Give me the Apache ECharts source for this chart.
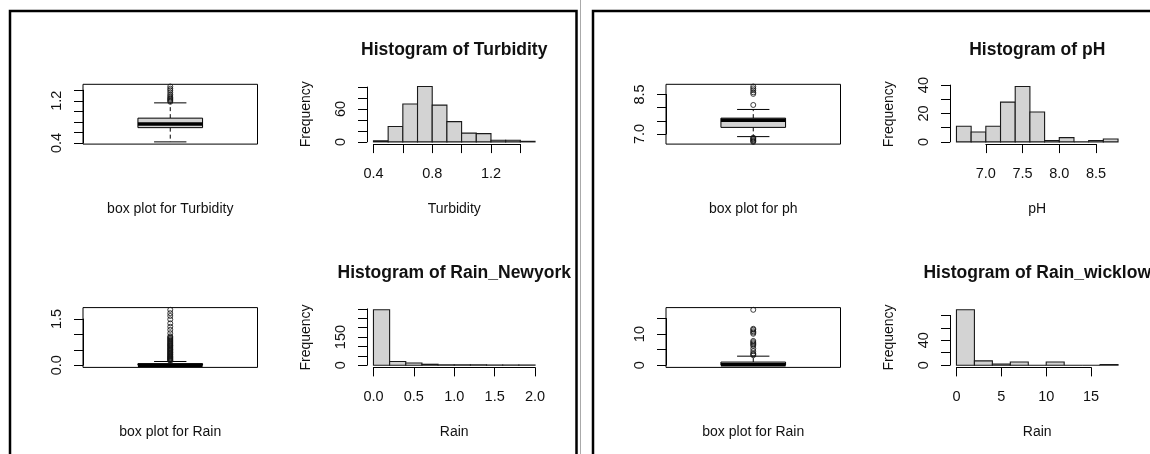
<!DOCTYPE html>
<html><head><meta charset="utf-8">
<script src="https://cdn.jsdelivr.net/npm/echarts@6/dist/echarts.min.js"></script>
<style>html,body{margin:0;padding:0;background:#fff}#c{width:1150px;height:454px}</style>
</head><body><div id="c"></div>
<script>
// ---------------- data ----------------
// Turbidity
const turbBox = [0.42, 0.69, 0.76, 0.87, 1.16];           // lower whisker, Q1, median, Q3, upper whisker
const turbOutliers = [1.18, 1.2, 1.22, 1.24, 1.26, 1.29, 1.32, 1.36, 1.4, 1.43, 1.47];
const turbBoxYTicks = [0.4, 0.6, 0.8, 1.0, 1.2, 1.4];
const turbBoxYLabels = ['0.4', '1.2'];
const turbBreaks = [0.4, 0.5, 0.6, 0.7, 0.8, 0.9, 1.0, 1.1, 1.2, 1.3, 1.4, 1.5];
const turbCounts = [2, 28, 69, 101, 67, 37, 16, 15, 3, 3, 1];
const turbHistXTicks = [0.4, 0.6, 0.8, 1.0, 1.2, 1.4];
const turbHistXLabels = ['0.4', '0.8', '1.2'];
const turbHistYTicks = [0, 20, 40, 60, 80, 100];
const turbHistYLabels = ['0', '60'];

// Rain New York
const nyBox = [0, 0, 0, 0.05, 0.12];
const nyOutliers = [0.14, 0.16, 0.18, 0.2, 0.22, 0.24, 0.26, 0.28, 0.3, 0.33, 0.35, 0.37, 0.4, 0.42, 0.45,
  0.47, 0.5, 0.52, 0.55, 0.57, 0.6, 0.63, 0.65, 0.68, 0.7, 0.73, 0.76, 0.79, 0.82, 0.85, 0.88, 0.91, 0.94,
  1.04, 1.15, 1.25, 1.36, 1.49, 1.6, 1.69, 1.8];
const nyBoxYTicks = [0, 0.5, 1.0, 1.5];
const nyBoxYLabels = ['0.0', '1.5'];
const nyBreaks = [0, 0.2, 0.4, 0.6, 0.8, 1.0, 1.2, 1.4, 1.6, 1.8, 2.0];
const nyCounts = [295, 20, 12, 5, 2, 2, 2, 1, 1, 1];
const nyHistXTicks = [0, 0.5, 1.0, 1.5, 2.0];
const nyHistXLabels = ['0.0', '0.5', '1.0', '1.5', '2.0'];
const nyHistYTicks = [0, 50, 100, 150, 200, 250, 300];
const nyHistYLabels = ['0', '150'];

// pH
const phBox = [6.9, 7.25, 7.52, 7.6, 7.93];
const phOutliers = [6.7, 6.73, 6.76, 6.8, 6.83, 6.86, 8.1, 8.52, 8.58, 8.66, 8.73, 8.8];
const phBoxYTicks = [7.0, 7.5, 8.0, 8.5];
const phBoxYLabels = ['7.0', '8.5'];
const phBreaks = [6.6, 6.8, 7.0, 7.2, 7.4, 7.6, 7.8, 8.0, 8.2, 8.4, 8.6, 8.8];
const phCounts = [11, 7, 11, 28, 39, 21, 1, 3, 0, 1, 2];
const phHistXTicks = [7.0, 7.5, 8.0, 8.5];
const phHistXLabels = ['7.0', '7.5', '8.0', '8.5'];
const phHistYTicks = [0, 10, 20, 30, 40];
const phHistYLabels = ['0', '20', '40'];

// Rain Wicklow
const wkBox = [0, 0, 0.1, 1.0, 2.9];
const wkOutliers = [3.2, 3.5, 3.8, 4.5, 5.3, 6.2, 6.6, 7.0, 7.4, 7.8, 10.1, 10.5, 10.9, 11.4, 11.7, 17.8];
const wkBoxYTicks = [0, 5, 10, 15];
const wkBoxYLabels = ['0', '10'];
const wkBreaks = [0, 2, 4, 6, 8, 10, 12, 14, 16, 18];
const wkCounts = [89, 7, 2, 5, 0, 5, 0, 0, 1];
const wkHistXTicks = [0, 5, 10, 15];
const wkHistXLabels = ['0', '5', '10', '15'];
const wkHistYTicks = [0, 20, 40, 60, 80];
const wkHistYLabels = ['0', '40'];

// ---------------- layout ----------------
const FONT = '"Liberation Sans", Arial, sans-serif';
const TXT = '#111';
const COLS = [83, 367, 666, 950];
const ROWS = [84.3, 307.6];
const PW = 174.5, PH = 59.8;

const grids = [], xAxes = [], yAxes = [], series = [], graphics = [];
const last = a => a[a.length - 1];
function ext(a, b) { const d = (b - a) * 0.04; return [a - d, b + d]; }

function addGrid(r, xa, ya, extra) {
  const i = grids.length;
  grids.push(Object.assign({left: r.l, top: r.t, width: r.w, height: r.h, containLabel: false,
    outerBoundsMode: 'none', show: false}, extra || {}));
  xAxes.push(Object.assign({gridIndex: i}, xa));
  yAxes.push(Object.assign({gridIndex: i}, ya));
  return i;
}
function hidden() { return {type: 'value', min: 0, max: 1, show: false, splitLine: {show: false}}; }
function plainAxis(min, max, name, gap) {
  const a = {type: 'value', min, max, show: true, axisLine: {show: false, onZero: false},
    axisTick: {show: false}, axisLabel: {show: false}, splitLine: {show: false}};
  if (name) {
    a.name = name; a.nameLocation = 'middle'; a.nameGap = gap;
    a.nameTextStyle = {fontSize: 14, color: TXT, fontFamily: FONT};
  }
  return a;
}
function tickAxis(ticks, labels, dec, isY) {
  return {type: 'value', min: ticks[0], max: last(ticks), interval: +(ticks[1] - ticks[0]).toFixed(6), show: true,
    axisLine: {show: true, onZero: false, lineStyle: {color: '#000', width: 1}},
    axisTick: {show: true, inside: false, length: 9, lineStyle: {color: '#000', width: 1}},
    splitLine: {show: false},
    axisLabel: {show: true, rotate: isY ? 90 : 0, margin: isY ? 19 : 22, fontSize: 14.5, color: TXT,
      fontFamily: FONT, hideOverlap: false, showMinLabel: true, showMaxLabel: true,
      formatter: v => { const s = (+v).toFixed(dec); return labels.indexOf(s) >= 0 ? s : ''; }}};
}
function xSub(r, d0, d1, t0, t1) {
  return {l: r.l + (t0 - d0) / (d1 - d0) * r.w, t: r.t, w: (t1 - t0) / (d1 - d0) * r.w, h: r.h};
}
function ySub(r, d0, d1, t0, t1) {
  return {l: r.l, w: r.w, t: r.t + (d1 - t1) / (d1 - d0) * r.h, h: (t1 - t0) / (d1 - d0) * r.h};
}

function histItem(params, api) {
  const a = api.coord([api.value(0), 0]);
  const b = api.coord([api.value(1), api.value(2)]);
  return {type: 'polygon', shape: {points: [[a[0], a[1]], [b[0], a[1]], [b[0], b[1]], [a[0], b[1]]]},
    style: {fill: '#d3d3d3', stroke: '#1a1a1a', lineWidth: 1.1}};
}
function boxItem(params, api) {
  const c = api.value(0), lo = api.value(1), q1 = api.value(2), med = api.value(3), q3 = api.value(4), hi = api.value(5);
  const P = (x, y) => api.coord([x, y]);
  const line = (a, b, extra) => ({type: 'line', shape: {x1: a[0], y1: a[1], x2: b[0], y2: b[1]},
    style: Object.assign({stroke: '#000', lineWidth: 1}, extra || {})});
  const bl = P(c - 0.2, q1), tr = P(c + 0.2, q3);
  return {type: 'group', children: [
    line(P(c, q3), P(c, hi), {lineDash: [4, 3]}),
    line(P(c, q1), P(c, lo), {lineDash: [4, 3]}),
    line(P(c - 0.1, hi), P(c + 0.1, hi)),
    line(P(c - 0.1, lo), P(c + 0.1, lo)),
    {type: 'polygon', shape: {points: [[bl[0], bl[1]], [tr[0], bl[1]], [tr[0], tr[1]], [bl[0], tr[1]]]},
      style: {fill: '#d3d3d3', stroke: '#000', lineWidth: 1}},
    line(P(c - 0.2, med), P(c + 0.2, med), {lineWidth: 3.5})
  ]};
}

function buildBox(col, row, label, box, out, yTicks, yLabels, yDec) {
  const r = {l: COLS[col], t: ROWS[row], w: PW, h: PH};
  const all = box.concat(out);
  const [y0, y1] = ext(Math.min(...all), Math.max(...all));
  const [x0, x1] = ext(0.5, 1.5);
  const g = addGrid(r, plainAxis(x0, x1, label, 58), plainAxis(y0, y1),
    {show: true, borderColor: '#000', borderWidth: 1, backgroundColor: 'transparent'});
  series.push({type: 'custom', xAxisIndex: g, yAxisIndex: g, data: [[1].concat(box)],
    encode: {x: 0, y: 1}, renderItem: boxItem, silent: true, animation: false});
  series.push({type: 'scatter', xAxisIndex: g, yAxisIndex: g, data: out.map(v => [1, v]),
    symbol: 'circle', symbolSize: 5, silent: true, animation: false,
    itemStyle: {color: 'transparent', borderColor: '#111', borderWidth: 1}});
  addGrid(ySub(r, y0, y1, yTicks[0], last(yTicks)), hidden(), tickAxis(yTicks, yLabels, yDec, true));
}

function buildHist(col, row, title, xlab, breaks, counts, xTicks, xLabels, xDec, yTicks, yLabels) {
  const r = {l: COLS[col], t: ROWS[row], w: PW, h: PH};
  const [x0, x1] = ext(breaks[0], last(breaks));
  const [y0, y1] = ext(0, Math.max(...counts));
  const g = addGrid(r, plainAxis(x0, x1, xlab, 58), plainAxis(y0, y1, 'Frequency', 54));
  series.push({type: 'custom', xAxisIndex: g, yAxisIndex: g,
    data: counts.map((c, i) => [breaks[i], breaks[i + 1], c]),
    encode: {x: 0, y: 2}, renderItem: histItem, silent: true, animation: false});
  addGrid(xSub(r, x0, x1, xTicks[0], last(xTicks)), tickAxis(xTicks, xLabels, xDec, false), hidden());
  addGrid(ySub(r, y0, y1, yTicks[0], last(yTicks)), hidden(), tickAxis(yTicks, yLabels, 0, true));
  graphics.push({type: 'text', x: r.l + r.w / 2, y: r.t - 34.3, silent: true,
    style: {text: title, font: 'bold 17.5px ' + FONT, fill: TXT,
      textAlign: 'center', textVerticalAlign: 'middle', align: 'center', verticalAlign: 'middle'}});
}

buildBox(0, 0, 'box plot for Turbidity', turbBox, turbOutliers, turbBoxYTicks, turbBoxYLabels, 1);
buildHist(1, 0, 'Histogram of Turbidity', 'Turbidity', turbBreaks, turbCounts, turbHistXTicks, turbHistXLabels, 1, turbHistYTicks, turbHistYLabels);
buildBox(0, 1, 'box plot for Rain', nyBox, nyOutliers, nyBoxYTicks, nyBoxYLabels, 1);
buildHist(1, 1, 'Histogram of Rain_Newyork', 'Rain', nyBreaks, nyCounts, nyHistXTicks, nyHistXLabels, 1, nyHistYTicks, nyHistYLabels);
buildBox(2, 0, 'box plot for ph', phBox, phOutliers, phBoxYTicks, phBoxYLabels, 1);
buildHist(3, 0, 'Histogram of pH', 'pH', phBreaks, phCounts, phHistXTicks, phHistXLabels, 1, phHistYTicks, phHistYLabels);
buildBox(2, 1, 'box plot for Rain', wkBox, wkOutliers, wkBoxYTicks, wkBoxYLabels, 0);
buildHist(3, 1, 'Histogram of Rain_wicklow', 'Rain', wkBreaks, wkCounts, wkHistXTicks, wkHistXLabels, 0, wkHistYTicks, wkHistYLabels);

// panel frames (decoration)
graphics.push({type: 'rect', silent: true, shape: {x: 10, y: 11, width: 566.5, height: 470},
  style: {fill: 'none', stroke: '#000', lineWidth: 2.5}});
graphics.push({type: 'line', silent: true, shape: {x1: 580.5, y1: 0, x2: 580.5, y2: 454},
  style: {stroke: '#aaa', lineWidth: 1}});
graphics.push({type: 'rect', silent: true, shape: {x: 593, y: 11, width: 600, height: 470},
  style: {fill: 'none', stroke: '#000', lineWidth: 2.5}});

const chart = echarts.init(document.getElementById('c'), null, {renderer: 'canvas', width: 1150, height: 454});
chart.setOption({
  animation: false,
  backgroundColor: '#fff',
  grid: grids, xAxis: xAxes, yAxis: yAxes, series: series,
  graphic: graphics
});
</script>
</body></html>
